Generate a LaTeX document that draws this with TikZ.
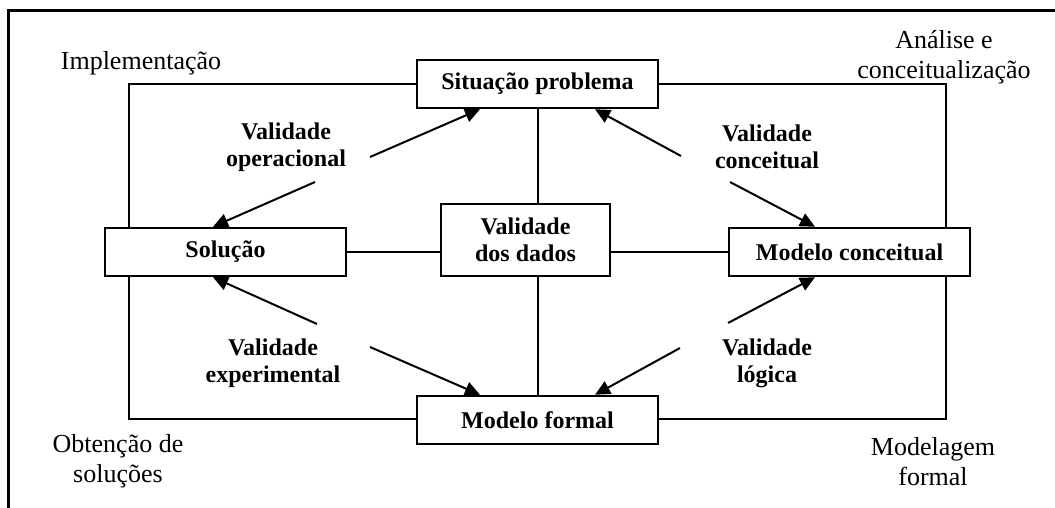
\documentclass[tikz,border=0pt]{standalone}
\usepackage{fontspec}
\setmainfont{Liberation Serif}
\usetikzlibrary{arrows.meta}
\tikzset{
  box/.style={draw, line width=2.5pt, fill=white, inner sep=0pt, align=center,
    font=\fontsize{24}{27}\selectfont\bfseries},
  lbl/.style={inner sep=0pt, align=center, font=\fontsize{24}{27}\selectfont\bfseries},
  corner/.style={inner sep=0pt, align=center, font=\fontsize{26}{30}\selectfont},
  link/.style={line width=2pt},
  arr/.style={line width=2pt, -{Triangle[length=15pt,width=14pt]}},
}
\begin{document}
\begin{tikzpicture}[x=1pt,y=-1pt]
\useasboundingbox (0,0) rectangle (1055,508);
% outer frame (top and left edges)
\coordinate (ftr) at (1055,11);
\coordinate (ftl) at (8,11);
\coordinate (fbl) at (8,508);
\draw[line width=3pt] (ftr) -- (ftl) -- (fbl);
% inner cycle
\coordinate (c1) at (129,84);
\coordinate (c2) at (946,419);
\draw[line width=2pt] (c1) rectangle (c2);
% boxes
\node[box, minimum width=241pt, minimum height=48pt] (sit) at (537.5,84) {Situação problema};
\node[box, minimum width=241pt, minimum height=48pt] (sol) at (225.5,252) {Solução};
\node[box, minimum width=169pt, minimum height=72pt] (dad) at (525.5,240) {Validade\\dos dados};
\node[box, minimum width=241pt, minimum height=48pt] (mc) at (849.5,252) {Modelo conceitual};
\node[box, minimum width=241pt, minimum height=48pt] (mf) at (537.5,420) {Modelo formal};
% cross links
\draw[link] (sol.east) -- (sol.east -| dad.west);
\draw[link] (mc.west) -- (mc.west -| dad.east);
\draw[link] (sit.south) -- (sit.south |- dad.north);
\draw[link] (mf.north) -- (mf.north |- dad.south);
% validation labels
\node[lbl] (vop) at (286,147) {Validade\\operacional};
\node[lbl] (vco) at (767,147) {Validade\\conceitual};
\node[lbl] (vex) at (273,363) {Validade\\experimental};
\node[lbl] (vlo) at (767,363) {Validade\\lógica};
% arrow free ends
\coordinate (op1) at (370,157);
\coordinate (op2) at (315,182);
\coordinate (co1) at (681,156);
\coordinate (co2) at (730,182);
\coordinate (ex1) at (317,324);
\coordinate (ex2) at (370,347);
\coordinate (lo1) at (728,323);
\coordinate (lo2) at (680,348);
\draw[arr] (op1) -- ([xshift=-57.5pt]sit.south);
\draw[arr] (op2) -- ([xshift=-12.5pt]sol.north);
\draw[arr] (co1) -- ([xshift=57.5pt]sit.south);
\draw[arr] (co2) -- ([xshift=-34.5pt]mc.north);
\draw[arr] (ex1) -- ([xshift=-12.5pt]sol.south);
\draw[arr] (ex2) -- ([xshift=-57.5pt]mf.north);
\draw[arr] (lo1) -- ([xshift=-34.5pt]mc.south);
\draw[arr] (lo2) -- ([xshift=57.5pt]mf.north);
% corner labels
\node[corner] (imp) at (141,63) {Implementação};
\node[corner] (ana) at (944,57) {Análise e\\conceitualização};
\node[corner] (obt) at (118,461) {Obtenção de\\soluções};
\node[corner] (mod) at (933,462) {Modelagem\\formal};
\end{tikzpicture}
\end{document}
